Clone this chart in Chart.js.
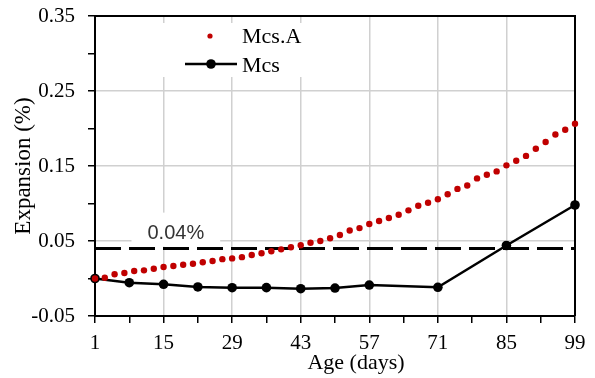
<!DOCTYPE html>
<html><head><meta charset="utf-8">
<script src="https://cdn.jsdelivr.net/npm/chart.js@4/dist/chart.umd.min.js"></script>
<style>html,body{margin:0;padding:0;background:#fff;}canvas{display:block;}</style>
</head><body>
<canvas id="c" width="595" height="378"></canvas>
<script>
// ---- data ----
const seriesNames = ['Mcs.A', 'Mcs'];
const mcsDays = [1, 8, 15, 22, 29, 36, 43, 50, 57, 71, 85, 99];
const mcsValues = [0.000, -0.0056, -0.0077, -0.0113, -0.0123, -0.0122, -0.0136, -0.0127, -0.0087, -0.0117, 0.044, 0.098];
const mcsADays = [1, 3, 5, 7, 9, 11, 13, 15, 17, 19, 21, 23, 25, 27, 29, 31, 33, 35, 37, 39, 41, 43, 45, 47, 49,
                  51, 53, 55, 57, 59, 61, 63, 65, 67, 69, 71, 73, 75, 77, 79, 81, 83, 85, 87, 89, 91, 93, 95, 97, 99];
const mcsAValues = [0.000, 0.0011, 0.0056, 0.0073, 0.0100, 0.0109, 0.0131, 0.0153, 0.0167, 0.0184, 0.0197, 0.0216, 0.0233,
                    0.0258, 0.0268, 0.0285, 0.0313, 0.0336, 0.0363, 0.0389, 0.0416, 0.0443, 0.0477, 0.0500, 0.0536,
                    0.0580, 0.0640, 0.0672, 0.0727, 0.0767, 0.0807, 0.0850, 0.0909, 0.0971, 0.1011, 0.1056, 0.1123,
                    0.1195, 0.1240, 0.1335, 0.1384, 0.1428, 0.1509, 0.1571, 0.1635, 0.1731, 0.1820, 0.1920, 0.1984, 0.2064];
const thresholdValue = 0.04;
const thresholdLabel = '0.04%';
const thresholdLabelDay = 17.5;
const thresholdLabelValue = 0.0625;
const xTickValues = [1, 8, 15, 22, 29, 36, 43, 50, 57, 64, 71, 78, 85, 92, 99];
const xTickLabels = ['1', '', '15', '', '29', '', '43', '', '57', '', '71', '', '85', '', '99'];
const yTickValues = [-0.05, 0, 0.05, 0.10, 0.15, 0.20, 0.25, 0.30, 0.35];
const yTickLabels = ['-0.05', '', '0.05', '', '0.15', '', '0.25', '', '0.35'];
const xTitle = 'Age (days)';
const yTitle = 'Expansion (%)';

// ---- styles ----
const RED = '#c00000';
const GRID = '#d0d0d0';
const SERIF = '"Liberation Serif", "Times New Roman", serif';
const SANS = '"Liberation Sans", Arial, sans-serif';

const decorPlugin = {
  id: 'decor',
  beforeDatasetsDraw(chart) {
    const ctx = chart.ctx, a = chart.chartArea;
    const xs = chart.scales.x, ys = chart.scales.y;
    ctx.save();
    // threshold label with white box
    const lx = xs.getPixelForValue(thresholdLabelDay);
    const ly = ys.getPixelForValue(thresholdLabelValue);
    ctx.font = '20px ' + SANS;
    const tw = ctx.measureText(thresholdLabel).width;
    ctx.fillStyle = '#fff';
    ctx.fillRect(lx - tw / 2 - 16, ly - 19, tw + 32, 34);
    ctx.fillStyle = '#333';
    ctx.textAlign = 'center'; ctx.textBaseline = 'alphabetic';
    ctx.fillText(thresholdLabel, lx, ly + 7);
    // legend
    ctx.fillStyle = '#fff';
    ctx.fillRect(150, 23, 158, 54);
    ctx.fillStyle = RED;
    ctx.beginPath(); ctx.arc(210, 36, 2.6, 0, Math.PI * 2); ctx.fill();
    ctx.strokeStyle = '#000'; ctx.lineWidth = 2.5;
    ctx.beginPath(); ctx.moveTo(185, 64); ctx.lineTo(237, 64); ctx.stroke();
    ctx.fillStyle = '#000';
    ctx.beginPath(); ctx.arc(211, 64, 4.8, 0, Math.PI * 2); ctx.fill();
    ctx.font = '22px ' + SERIF;
    ctx.textAlign = 'left'; ctx.textBaseline = 'alphabetic';
    ctx.fillText(seriesNames[0], 242, 43);
    ctx.fillText(seriesNames[1], 242, 72);
    // x title
    ctx.font = '22px ' + SERIF;
    ctx.textAlign = 'center';
    ctx.fillText(xTitle, 356, 369);
    // top & right frame
    ctx.strokeStyle = '#000'; ctx.lineWidth = 2;
    ctx.beginPath();
    ctx.moveTo(a.left, a.top); ctx.lineTo(a.right, a.top); ctx.lineTo(a.right, a.bottom);
    ctx.stroke();
    ctx.restore();
  }
};

new Chart(document.getElementById('c'), {
  type: 'line',
  data: {
    datasets: [
      {
        label: seriesNames[0],
        data: mcsADays.map((d, i) => ({x: d, y: mcsAValues[i]})),
        showLine: false,
        pointRadius: 3.2,
        pointBackgroundColor: RED,
        pointBorderWidth: 0,
        borderColor: RED,
        order: 0,
        clip: false
      },
      {
        label: seriesNames[1],
        data: mcsDays.map((d, i) => ({x: d, y: mcsValues[i]})),
        borderColor: '#000',
        borderWidth: 2.5,
        pointRadius: 4.8,
        pointBackgroundColor: '#000',
        pointBorderColor: '#000',
        pointBorderWidth: 0,
        tension: 0,
        order: 1,
        clip: false
      },
      {
        label: 'threshold',
        data: [{x: xTickValues[0], y: thresholdValue}, {x: xTickValues[xTickValues.length - 1], y: thresholdValue}],
        borderColor: '#000',
        borderWidth: 3,
        borderDash: [26, 8],
        pointRadius: 0,
        order: 2,
        clip: false
      }
    ]
  },
  options: {
    responsive: false,
    animation: false,
    devicePixelRatio: 1,
    layout: {padding: {top: 16, right: 20, left: 0, bottom: 0}},
    plugins: {legend: {display: false}, tooltip: {enabled: false}},
    scales: {
      x: {
        type: 'linear',
        min: xTickValues[0], max: xTickValues[xTickValues.length - 1],
        afterBuildTicks: s => { s.ticks = xTickValues.map(v => ({value: v})); },
        afterFit: s => { s.height = 62; s.paddingLeft = 0; s.paddingRight = 0; },
        ticks: {
          autoSkip: false, maxRotation: 0, minRotation: 0, padding: 8, color: '#000',
          font: {family: SERIF, size: 21},
          callback: (v, i) => xTickLabels[i]
        },
        grid: {
          color: c => (xTickLabels[c.index] && c.index > 0 && c.index < xTickValues.length - 1) ? GRID : 'rgba(0,0,0,0)',
          lineWidth: 1.5,
          tickColor: '#000', tickWidth: 1.5, tickLength: 7
        },
        border: {display: true, color: '#000', width: 2}
      },
      y: {
        type: 'linear',
        min: yTickValues[0], max: yTickValues[yTickValues.length - 1],
        afterBuildTicks: s => { s.ticks = yTickValues.map(v => ({value: v})); },
        afterFit: s => { s.width = 95; s.paddingTop = 0; s.paddingBottom = 0; },
        ticks: {
          autoSkip: false, padding: 13, color: '#000',
          font: {family: SERIF, size: 21},
          callback: (v, i) => yTickLabels[i]
        },
        grid: {
          color: c => (yTickLabels[c.index] && c.index > 0 && c.index < yTickValues.length - 1) ? GRID : 'rgba(0,0,0,0)',
          lineWidth: 1.5,
          tickColor: '#000', tickWidth: 1.5, tickLength: 7
        },
        border: {display: true, color: '#000', width: 2},
        title: {
          display: true, text: yTitle, color: '#000',
          font: {family: SERIF, size: 23},
          padding: {top: 10, bottom: 0}
        }
      }
    }
  },
  plugins: [decorPlugin]
});
</script>
</body></html>
